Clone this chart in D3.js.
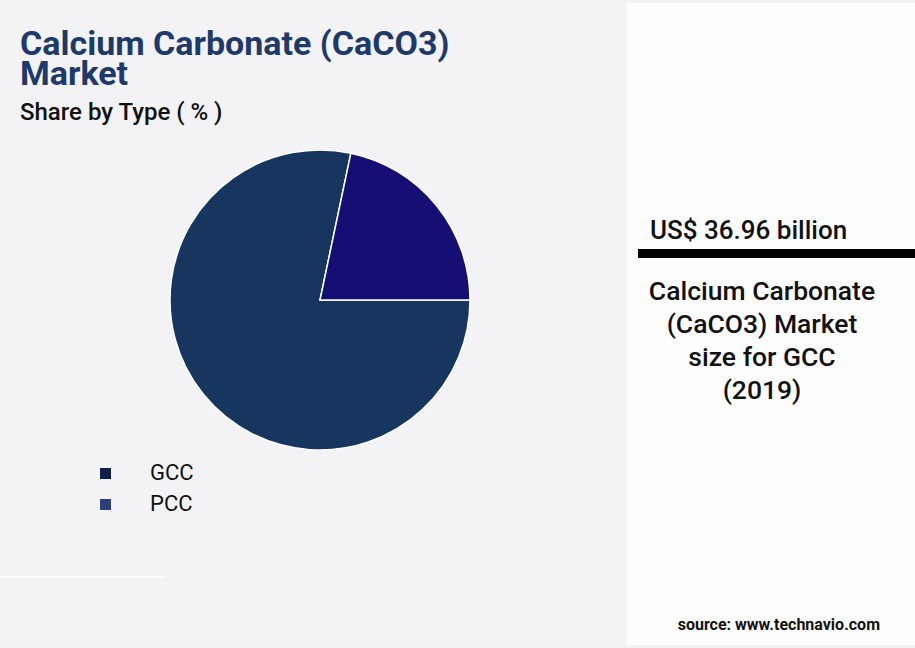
<!DOCTYPE html>
<html><head><meta charset="utf-8">
<script src="https://cdn.jsdelivr.net/npm/d3@7"></script>
<style>body{margin:0;background:#f3f3f6;}svg{display:block;font-family:Roboto,sans-serif;}</style>
</head><body>
<svg id="chart" width="915" height="648"></svg>
<script>
"use strict";

var categories = ["GCC", "PCC"],
    shares = [78.3, 21.7],
    sliceColors = ["#163660", "#150f73"],
    legendColors = ["#0f1f4a", "#2c3f7a"];

var svg = d3.select("#chart");

svg.append("rect").attr("width", 915).attr("height", 648).attr("fill", "#f3f3f6");
svg.append("rect").attr("x", 627).attr("y", 3).attr("width", 288).attr("height", 642).attr("fill", "#fdfdfd");
svg.append("line").attr("x1", 0).attr("x2", 165).attr("y1", 577).attr("y2", 577)
  .attr("stroke", "#ffffff").attr("stroke-width", 1.5);

svg.append("text").attr("x", 20).attr("y", 55).attr("font-size", 34).attr("font-weight", 700)
  .attr("fill", "#1e3a6a").text("Calcium Carbonate (CaCO3)");
svg.append("text").attr("x", 20).attr("y", 85).attr("font-size", 34).attr("font-weight", 700)
  .attr("fill", "#1e3a6a").text("Market");
svg.append("text").attr("x", 20).attr("y", 120).attr("font-size", 24).attr("font-weight", 500)
  .attr("fill", "#111").text("Share by Type ( % )");

var pie = d3.pie().sort(null).startAngle(Math.PI / 2).endAngle(Math.PI / 2 + 2 * Math.PI),
    arc = d3.arc().innerRadius(0).outerRadius(150);

svg.append("g").attr("transform", "translate(320,300)")
  .selectAll("path").data(pie(shares))
  .enter().append("path")
  .attr("d", arc)
  .attr("fill", function(d, i) { return sliceColors[i]; })
  .attr("stroke", "#ffffff").attr("stroke-width", 1.5);

var legend = svg.selectAll(".legend").data(categories)
  .enter().append("g")
  .attr("class", "legend")
  .attr("transform", function(d, i) { return "translate(100," + (468 + i * 31) + ")"; });
legend.append("rect").attr("width", 11).attr("height", 11)
  .attr("fill", function(d, i) { return legendColors[i]; });
legend.append("text").attr("x", 50).attr("y", 12).attr("font-size", 22).attr("fill", "#111")
  .text(function(d) { return d; });

svg.append("text").attr("x", 650).attr("y", 239).attr("font-size", 26).attr("font-weight", 500)
  .attr("fill", "#111").text("US$ 36.96 billion");
svg.append("rect").attr("x", 638).attr("y", 249).attr("width", 277).attr("height", 9).attr("fill", "#000");

var desc = ["Calcium Carbonate", "(CaCO3) Market", "size for GCC", "(2019)"];
svg.selectAll(".desc").data(desc).enter().append("text")
  .attr("class", "desc")
  .attr("x", 762).attr("y", function(d, i) { return 300 + i * 33; })
  .attr("text-anchor", "middle").attr("font-size", 26.5).attr("font-weight", 500).attr("fill", "#111")
  .text(function(d) { return d; });

svg.append("text").attr("x", 880).attr("y", 630).attr("text-anchor", "end")
  .attr("font-size", 16).attr("font-weight", 700).attr("fill", "#111").text("source: www.technavio.com");
</script>
</body></html>
